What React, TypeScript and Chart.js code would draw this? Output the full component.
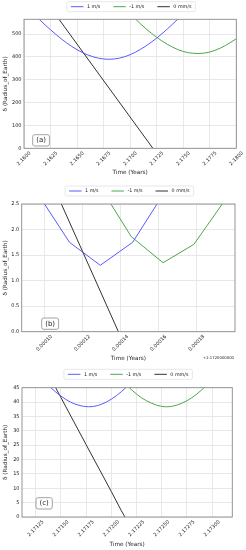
import React, { useEffect, useRef } from "react";
import { Chart, registerables } from "chart.js";

Chart.register(...registerables);

const FONT = "'DejaVu Sans', sans-serif";
const W = 246;

// ---- shared series meta ----
const SERIES_LABELS = ["1 m/s", "-1 m/s", "0 mm/s"];
const SERIES_COLORS = ["#5a5aff", "#4aa84a", "#333333"];
const Y_TITLE = "δ (Radius_of_Earth)";
const X_TITLE = "Time (Years)";

// ---- panel (a) ----
const A_BLUE_T = [2.161, 2.162, 2.163, 2.164, 2.165, 2.166, 2.167, 2.168, 2.169, 2.17, 2.171, 2.172, 2.173, 2.174, 2.175];
const A_BLUE = [585, 540, 499, 462, 432, 409, 395, 390, 395, 410, 434, 465, 502, 544, 589];
const A_GREEN_T = [2.17, 2.171, 2.172, 2.173, 2.174, 2.175, 2.176, 2.177, 2.178, 2.179, 2.18];
const A_GREEN = [589, 544, 504, 470, 443, 424, 416, 417, 429, 451, 480];
const A_BLACK_T = [2.163, 2.17214];
const A_BLACK = [584, 0];
const A_X_TICKS = [2.16, 2.1625, 2.165, 2.1675, 2.17, 2.1725, 2.175, 2.1775, 2.18];
const A_Y_TICKS = [0, 100, 200, 300, 400, 500];

// ---- panel (b) (time shown as offset from B_OFFSET) ----
const B_OFFSET_LABEL = "+2.1720000000";
const B_BLUE_T = [0.0000966, 0.0001132, 0.0001294, 0.0001464, 0.000163];
const B_BLUE = [2.7, 1.75, 1.3, 1.75, 2.72];
const B_GREEN_T = [0.0001291, 0.0001457, 0.0001624, 0.0001786, 0.0001952];
const B_GREEN = [2.85, 1.86, 1.35, 1.71, 2.59];
const B_BLACK_T = [0.000105, 0.0001389];
const B_BLACK = [2.83, 0];
const B_X_TICKS = [0.0001, 0.00012, 0.00014, 0.00016, 0.00018];
const B_Y_TICKS = [0, 0.5, 1, 1.5, 2, 2.5];

// ---- panel (c) ----
const C_BLUE_T = [2.17135, 2.1714, 2.1715, 2.1716, 2.1717, 2.1718, 2.1719, 2.172, 2.1721, 2.1722];
const C_BLUE = [46.8, 45.0, 42.1, 39.9, 38.7, 38.4, 39.2, 41.0, 43.6, 46.9];
const C_GREEN_T = [2.17215, 2.1722, 2.1723, 2.1724, 2.1725, 2.1726, 2.1727, 2.1728, 2.1729, 2.173];
const C_GREEN = [46.0, 44.3, 41.5, 39.6, 38.5, 38.5, 39.6, 41.5, 44.3, 47.6];
const C_BLACK_T = [2.1714, 2.1715, 2.17175, 2.172, 2.1721, 2.172136];
const C_BLACK = [48.2, 41.6, 25.2, 8.9, 2.2, 0];
const C_X_TICKS = [2.17125, 2.1715, 2.17175, 2.172, 2.17225, 2.1725, 2.17275, 2.173];
const C_Y_TICKS = [0, 5, 10, 15, 20, 25, 30, 35, 40, 45];

type Series = { t: number[]; v: number[]; tension: number };
type PanelCfg = {
  top: number;
  height: number;
  area: { left: number; right: number; top: number; bottom: number };
  xMin: number;
  xMax: number;
  yMin: number;
  yMax: number;
  xTicks: number[];
  yTicks: number[];
  xDigits: number;
  yDigits: number;
  labelOffset: number;
  xTitlePad: number;
  series: Series[];
  tag: string;
  tagLeft: number;
  tagBottom: number;
  legendY: number;
  offsetText?: string;
  offsetY?: number;
};

const PANELS: PanelCfg[] = [
  {
    top: 0,
    height: 183,
    area: { left: 24, right: 236.3, top: 19.3, bottom: 148.3 },
    xMin: 2.16,
    xMax: 2.18,
    yMin: 0,
    yMax: 565,
    xTicks: A_X_TICKS,
    yTicks: A_Y_TICKS,
    xDigits: 4,
    yDigits: 0,
    labelOffset: 6.2,
    xTitlePad: 7.3,
    series: [
      { t: A_BLUE_T, v: A_BLUE, tension: 0.35 },
      { t: A_GREEN_T, v: A_GREEN, tension: 0.35 },
      { t: A_BLACK_T, v: A_BLACK, tension: 0 },
    ],
    tag: "(a)",
    tagLeft: 8.7,
    tagBottom: 2.3,
    legendY: 6.7,
  },
  {
    top: 183,
    height: 183,
    area: { left: 21.7, right: 235, top: 21, bottom: 148.7 },
    xMin: 0.0000881,
    xMax: 0.0002002,
    yMin: 0,
    yMax: 2.5,
    xTicks: B_X_TICKS,
    yTicks: B_Y_TICKS,
    xDigits: 5,
    yDigits: 1,
    labelOffset: 7.3,
    xTitlePad: 3.6,
    series: [
      { t: B_BLUE_T, v: B_BLUE, tension: 0 },
      { t: B_GREEN_T, v: B_GREEN, tension: 0 },
      { t: B_BLACK_T, v: B_BLACK, tension: 0 },
    ],
    tag: "(b)",
    tagLeft: 20,
    tagBottom: 2.4,
    legendY: 8,
    offsetText: B_OFFSET_LABEL,
    offsetY: 175.3,
  },
  {
    top: 366,
    height: 184,
    area: { left: 22, right: 232.3, top: 21.7, bottom: 151 },
    xMin: 2.171114,
    xMax: 2.1732015,
    yMin: 0,
    yMax: 45,
    xTicks: C_X_TICKS,
    yTicks: C_Y_TICKS,
    xDigits: 5,
    yDigits: 0,
    labelOffset: 7.3,
    xTitlePad: 2.3,
    series: [
      { t: C_BLUE_T, v: C_BLUE, tension: 0.35 },
      { t: C_GREEN_T, v: C_GREEN, tension: 0.35 },
      { t: C_BLACK_T, v: C_BLACK, tension: 0 },
    ],
    tag: "(c)",
    tagLeft: 14,
    tagBottom: 8,
    legendY: 8.3,
  },
];

function roundRect(ctx: CanvasRenderingContext2D, x: number, y: number, w: number, h: number, r: number) {
  ctx.beginPath();
  ctx.moveTo(x + r, y);
  ctx.lineTo(x + w - r, y);
  ctx.quadraticCurveTo(x + w, y, x + w, y + r);
  ctx.lineTo(x + w, y + h - r);
  ctx.quadraticCurveTo(x + w, y + h, x + w - r, y + h);
  ctx.lineTo(x + r, y + h);
  ctx.quadraticCurveTo(x, y + h, x, y + h - r);
  ctx.lineTo(x, y + r);
  ctx.quadraticCurveTo(x, y, x + r, y);
  ctx.closePath();
}

const decorPlugin = {
  id: "mplDecor",
  afterDraw(chart: any, _args: any, opts: any) {
    const ctx: CanvasRenderingContext2D = chart.ctx;
    const a = chart.chartArea;
    ctx.save();
    // axes frame
    ctx.strokeStyle = "#8a8a8a";
    ctx.lineWidth = 0.9;
    ctx.strokeRect(a.left, a.top, a.right - a.left, a.bottom - a.top);

    // panel tag box
    ctx.font = `7px ${FONT}`;
    const tw = ctx.measureText(opts.tag).width;
    const bw = tw + 7;
    const bh = 11.3;
    const bx = a.left + opts.tagLeft;
    const by = a.bottom - opts.tagBottom - bh;
    roundRect(ctx, bx, by, bw, bh, 2);
    ctx.fillStyle = "rgba(255,255,255,0.9)";
    ctx.fill();
    ctx.strokeStyle = "#8c8c8c";
    ctx.lineWidth = 0.8;
    ctx.stroke();
    ctx.fillStyle = "#222";
    ctx.textAlign = "center";
    ctx.textBaseline = "middle";
    ctx.fillText(opts.tag, bx + bw / 2, by + bh / 2 + 0.3);

    // legend
    const ds = chart.data.datasets;
    ctx.font = `4.8px ${FONT}`;
    const handle = 12.5;
    const tpad = 3.5;
    const colSp = 13;
    const widths = ds.map((d: any) => handle + tpad + ctx.measureText(d.label).width);
    const total = widths.reduce((s: number, w: number) => s + w, 0) + colSp * (ds.length - 1);
    const cx = (a.left + a.right) / 2 + 1;
    let x = cx - total / 2;
    const ly = opts.legendY;
    const fpad = 4;
    roundRect(ctx, x - fpad, ly - 5, total + 2 * fpad, 10, 1.5);
    ctx.fillStyle = "rgba(255,255,255,0.8)";
    ctx.fill();
    ctx.strokeStyle = "#d6d6d6";
    ctx.lineWidth = 0.6;
    ctx.stroke();
    ctx.textAlign = "left";
    ctx.textBaseline = "middle";
    ds.forEach((d: any, i: number) => {
      ctx.strokeStyle = d.borderColor;
      ctx.lineWidth = 1;
      ctx.beginPath();
      ctx.moveTo(x, ly);
      ctx.lineTo(x + handle, ly);
      ctx.stroke();
      ctx.fillStyle = "#222";
      ctx.fillText(d.label, x + handle + tpad, ly);
      x += widths[i] + colSp;
    });

    // offset text
    if (opts.offsetText) {
      ctx.font = `3.8px ${FONT}`;
      ctx.textAlign = "right";
      ctx.fillStyle = "#222";
      ctx.fillText(opts.offsetText, a.right - 1, opts.offsetY);
    }
    ctx.restore();
  },
};

function Panel({ cfg }: { cfg: PanelCfg }) {
  const ref = useRef<HTMLCanvasElement>(null);
  useEffect(() => {
    const canvas = ref.current;
    if (!canvas) return;
    const gridColor = "#e2e2e2";
    const chart = new Chart(canvas, {
      type: "line",
      data: {
        datasets: cfg.series.map((s, i) => ({
          label: SERIES_LABELS[i],
          data: s.t.map((t, j) => ({ x: t, y: s.v[j] })),
          borderColor: SERIES_COLORS[i],
          backgroundColor: SERIES_COLORS[i],
          borderWidth: 1,
          pointRadius: 0,
          tension: s.tension,
          fill: false,
        })),
      },
      options: {
        responsive: false,
        animation: false,
        devicePixelRatio: 1,
        events: [],
        layout: {
          padding: { top: cfg.area.top, right: W - cfg.area.right, left: 0, bottom: 0 },
        },
        plugins: {
          legend: { display: false },
          tooltip: { enabled: false },
          mplDecor: {
            tag: cfg.tag,
            tagLeft: cfg.tagLeft,
            tagBottom: cfg.tagBottom,
            legendY: cfg.legendY,
            offsetText: cfg.offsetText,
            offsetY: cfg.offsetY,
          },
        } as any,
        scales: {
          x: {
            type: "linear",
            min: cfg.xMin,
            max: cfg.xMax,
            afterBuildTicks: (s: any) => {
              s.ticks = cfg.xTicks.map((v) => ({ value: v }));
            },
            afterFit: (s: any) => {
              s.height = cfg.height - cfg.area.bottom;
              s.paddingLeft = 0;
              s.paddingRight = 0;
            },
            grid: { color: gridColor, lineWidth: 0.8, drawTicks: false },
            border: { display: false },
            ticks: {
              autoSkip: false,
              minRotation: 45,
              maxRotation: 45,
              labelOffset: cfg.labelOffset,
              padding: 2,
              color: "#222",
              font: { family: FONT, size: 5 },
              callback: (v: any) => Number(v).toFixed(cfg.xDigits),
            },
            title: {
              display: true,
              text: X_TITLE,
              color: "#222",
              font: { family: FONT, size: 5.7 },
              padding: { top: 0, bottom: cfg.xTitlePad },
            },
          },
          y: {
            type: "linear",
            min: cfg.yMin,
            max: cfg.yMax,
            afterBuildTicks: (s: any) => {
              s.ticks = cfg.yTicks.map((v) => ({ value: v }));
            },
            afterFit: (s: any) => {
              s.width = cfg.area.left;
              s.paddingTop = 0;
              s.paddingBottom = 0;
            },
            grid: { color: gridColor, lineWidth: 0.8, drawTicks: false },
            border: { display: false },
            ticks: {
              padding: 2.5,
              color: "#222",
              font: { family: FONT, size: 5 },
              callback: (v: any) => Number(v).toFixed(cfg.yDigits),
            },
            title: {
              display: true,
              text: Y_TITLE,
              color: "#222",
              font: { family: FONT, size: 5.7, lineHeight: 1 },
              padding: { top: 2.5, bottom: 0 },
            },
          },
        },
      },
      plugins: [decorPlugin as any],
    });
    return () => chart.destroy();
  }, [cfg]);
  return (
    <canvas
      ref={ref}
      width={W}
      height={cfg.height}
      style={{ position: "absolute", left: 0, top: cfg.top, display: "block" }}
    />
  );
}

export default function App() {
  return (
    <div style={{ position: "absolute", left: 0, top: 0, width: W, height: 550, background: "#fff" }}>
      {PANELS.map((p) => (
        <Panel key={p.tag} cfg={p} />
      ))}
    </div>
  );
}
